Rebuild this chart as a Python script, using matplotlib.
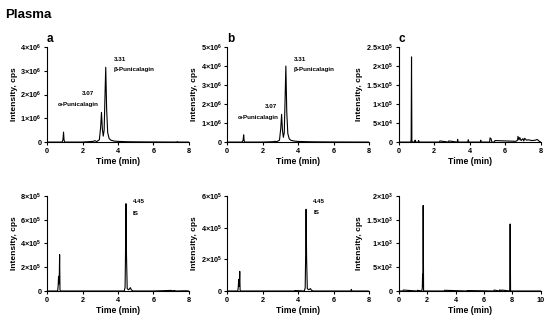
import matplotlib.pyplot as plt

plt.rcParams['font.family'] = ['Liberation Sans', 'DejaVu Sans']
plt.rcParams['font.weight'] = 'bold'
plt.rcParams['mathtext.fontset'] = 'custom'
plt.rcParams['mathtext.rm'] = 'Liberation Sans:bold'
plt.rcParams['mathtext.bf'] = 'Liberation Sans:bold'

# ---- data ----
# top a : alpha/beta punicalagin, intensity in cps
t_a = [0, 0.85, 0.9, 0.93, 0.96, 1.0, 2.0, 2.6, 2.7, 2.8, 2.95, 3.02, 3.07, 3.12, 3.17,
       3.22, 3.27, 3.31, 3.36, 3.42, 3.5, 3.6, 3.8, 4.0, 4.5, 5.0, 6.0, 7.3, 7.35, 7.4, 8.0]
i_a = [0, 0, 0.1e6, 0.42e6, 0.08e6, 0, 0, 0.03e6, 0.06e6, 0.02e6, 0.1e6, 0.6e6, 1.25e6, 0.55e6, 0.25e6,
       0.5e6, 2.0e6, 3.15e6, 1.4e6, 0.4e6, 0.15e6, 0.08e6, 0.04e6, 0.03e6, 0.015e6, 0.01e6, 0.005e6, 0, 0.02e6, 0, 0]

# top b
t_b = [0, 0.85, 0.9, 0.93, 0.96, 1.0, 2.0, 2.6, 2.7, 2.8, 2.95, 3.02, 3.07, 3.12, 3.17,
       3.22, 3.27, 3.31, 3.36, 3.42, 3.5, 3.6, 3.8, 4.0, 4.5, 5.0, 6.0, 7.0, 8.0]
i_b = [0, 0, 0.1e6, 0.38e6, 0.06e6, 0, 0, 0.02e6, 0.04e6, 0.02e6, 0.1e6, 0.7e6, 1.46e6, 0.6e6, 0.25e6,
       0.5e6, 2.4e6, 4.0e6, 1.6e6, 0.45e6, 0.17e6, 0.09e6, 0.05e6, 0.035e6, 0.02e6, 0.012e6, 0.006e6, 0.003e6, 0]

# top c : blank
t_c = [0, 0.68, 0.7, 0.72, 0.74, 0.76, 0.9, 0.92, 0.95, 1.1, 1.12, 1.15, 2.3, 2.32, 2.8, 2.82,
       3.3, 3.32, 3.35, 3.9, 3.92, 3.95, 4.6, 4.62, 4.65, 5.12, 5.15, 5.2, 5.25, 5.4, 5.42,
       6.6, 6.7, 6.72, 6.78, 6.82, 6.9, 7.0, 7.05, 7.1, 7.2, 7.3, 7.5, 7.7, 7.8, 7.9, 8.0]
i_c = [0, 0, 8e3, 2.24e5, 5e3, 0, 0, 5e3, 0, 0, 4e3, 0, 0, 3e3, 0, 3e3,
       0, 7e3, 0, 0, 6e3, 0, 0, 5e3, 0, 0, 1.1e4, 9e3, 0, 0, 4e3,
       2e3, 5e3, 1.5e4, 6e3, 1.2e4, 4e3, 9e3, 3e3, 1e4, 5e3, 6e3, 4e3, 5e3, 7e3, 3e3, 0]

# bottom a : IS
t_d = [0, 0.6, 0.63, 0.65, 0.67, 0.69, 0.71, 0.73, 0.76, 2.0, 4.35, 4.4, 4.42, 4.45, 4.48,
       4.52, 4.6, 4.7, 4.75, 4.85, 6.0, 7.0, 7.05, 7.2, 7.25, 7.8, 8.0]
i_d = [0, 0, 0.5e5, 1.24e5, 0.6e5, 1.0e5, 3.06e5, 0.1e5, 0, 0, 0, 0.3e5, 2.5e5, 7.35e5, 3.0e5,
       0.2e5, 0.1e5, 0.28e5, 0.1e5, 0, 0, 0.05e5, 0.02e5, 0.04e5, 0, 0.02e5, 0]

# bottom b
t_e = [0, 0.6, 0.63, 0.65, 0.67, 0.69, 0.71, 0.73, 0.76, 2.0, 3.8, 3.82, 4.35, 4.4, 4.42, 4.45, 4.48,
       4.52, 4.6, 4.7, 4.75, 4.85, 6.0, 6.98, 7.0, 7.03, 8.0]
i_e = [0, 0, 0.3e5, 0.74e5, 0.3e5, 0.5e5, 1.24e5, 0.05e5, 0, 0, 0, 0.03e5, 0, 0.2e5, 1.8e5, 5.16e5, 2.0e5,
       0.15e5, 0.08e5, 0.15e5, 0.05e5, 0, 0, 0, 0.1e5, 0, 0]

# bottom c
t_f = [0, 0.3, 0.32, 1.3, 1.32, 1.62, 1.66, 1.68, 1.7, 1.72, 1.75, 3.2, 3.22, 4.8, 4.82,
       6.7, 6.72, 7.1, 7.12, 7.25, 7.27, 7.82, 7.85, 7.88, 10.0]
i_f = [0, 0, 20, 0, 15, 0, 60, 353, 100, 1800, 0, 0, 15, 0, 10,
       0, 20, 0, 25, 0, 20, 0, 1410, 0, 0]

panels = [
    ('a', t_a, i_a, [0, 1e6, 2e6, 3e6, 4e6],
     ['0', r'1×10$^{6}$', r'2×10$^{6}$', r'3×10$^{6}$', r'4×10$^{6}$'], 4e6, 8),
    ('b', t_b, i_b, [0, 1e6, 2e6, 3e6, 4e6, 5e6],
     ['0', r'1×10$^{6}$', r'2×10$^{6}$', r'3×10$^{6}$', r'4×10$^{6}$', r'5×10$^{6}$'], 5e6, 8),
    ('c', t_c, i_c, [0, 5e4, 1e5, 1.5e5, 2e5, 2.5e5],
     ['0', r'5×10$^{4}$', r'1×10$^{5}$', r'1.5×10$^{5}$', r'2×10$^{5}$', r'2.5×10$^{5}$'], 2.5e5, 8),
    ('', t_d, i_d, [0, 2e5, 4e5, 6e5, 8e5],
     ['0', r'2×10$^{5}$', r'4×10$^{5}$', r'6×10$^{5}$', r'8×10$^{5}$'], 8e5, 8),
    ('', t_e, i_e, [0, 2e5, 4e5, 6e5],
     ['0', r'2×10$^{5}$', r'4×10$^{5}$', r'6×10$^{5}$'], 6e5, 8),
    ('', t_f, i_f, [0, 500, 1000, 1500, 2000],
     ['0', r'5×10$^{2}$', r'1×10$^{3}$', r'1.5×10$^{3}$', r'2×10$^{3}$'], 2000, 10),
]

fig = plt.figure(figsize=(5.5, 3.2), dpi=100)
lefts = [0.0855, 0.413, 0.725]
bottoms = [0.556, 0.0906]
w, h = 0.258, 0.297

axes = []
for k, (letter, t, inten, yt, ytl, ymax, xmax) in enumerate(panels):
    ax = fig.add_axes([lefts[k % 3], bottoms[k // 3], w, h])
    ax.plot(t, inten, color='black', lw=0.8)
    ax.set_xlim(0, xmax)
    ax.set_ylim(0, ymax)
    ax.set_xticks(range(0, xmax + 1, 2))
    ax.set_yticks(yt)
    ax.set_yticklabels(ytl)
    ax.spines['top'].set_visible(False)
    ax.spines['right'].set_visible(False)
    ax.spines['left'].set_linewidth(0.8)
    ax.spines['bottom'].set_linewidth(0.8)
    ax.tick_params(labelsize=5.2, length=2.5, width=0.8, pad=1.5)
    ax.set_xlabel('Time (min)', fontsize=6.2, fontweight='bold', labelpad=2)
    ax.set_ylabel('Intensity, cps', fontsize=6, fontweight='bold', labelpad=2)
    if letter:
        ax.text(0.0, 1.05, letter, transform=ax.transAxes, fontsize=8.5, fontweight='bold')
    axes.append(ax)

fs = 4.5
axes[0].text(3.77, 3.4e6, '3.31', fontsize=fs)
axes[0].text(3.77, 2.98e6, 'β-Punicalagin', fontsize=fs)
axes[0].text(1.97, 2.0e6, '3.07', fontsize=fs)
axes[0].text(0.62, 1.53e6, 'α-Punicalagin', fontsize=fs)

axes[1].text(3.77, 4.26e6, '3.31', fontsize=fs)
axes[1].text(3.77, 3.74e6, 'β-Punicalagin', fontsize=fs)
axes[1].text(2.14, 1.79e6, '3.07', fontsize=fs)
axes[1].text(0.62, 1.21e6, 'α-Punicalagin', fontsize=fs)

axes[3].text(4.85, 7.4e5, '4.45', fontsize=fs)
axes[3].text(4.85, 6.4e5, 'IS', fontsize=fs)
axes[4].text(4.85, 5.56e5, '4.45', fontsize=fs)
axes[4].text(4.85, 4.86e5, 'IS', fontsize=fs)

fig.text(0.01, 0.945, 'Plasma', fontsize=9.5, fontweight='bold')

fig.savefig('out.png', dpi=100)
